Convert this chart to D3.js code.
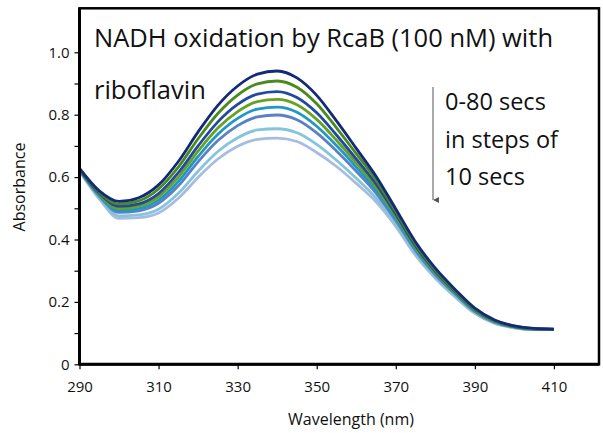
<!DOCTYPE html>
<html>
<head>
<meta charset="utf-8">
<script src="https://cdn.jsdelivr.net/npm/d3@7"></script>
<style>
  body { margin: 0; background: #fff; }
  text { font-family: "Open Sans", sans-serif; fill: #111; }
</style>
</head>
<body>
<div id="chart"></div>
<script>
// wavelengths (nm), one reading every 5 nm
const wavelengths = [290,295,300,305,310,315,320,325,330,335,340,345,350,355,360,365,370,375,380,385,390,395,400,405,410];

// absorbance spectra, 0 s first
const s0  = [0.628,0.556,0.522,0.534,0.575,0.650,0.745,0.830,0.892,0.930,0.940,0.918,0.862,0.780,0.692,0.603,0.498,0.392,0.308,0.240,0.180,0.142,0.123,0.115,0.113];
const s10 = [0.627,0.552,0.514,0.524,0.562,0.632,0.723,0.804,0.863,0.899,0.908,0.888,0.835,0.758,0.675,0.591,0.490,0.386,0.303,0.236,0.177,0.140,0.122,0.114,0.113];
const s20 = [0.625,0.548,0.506,0.514,0.547,0.614,0.700,0.777,0.833,0.866,0.874,0.855,0.806,0.735,0.658,0.578,0.481,0.379,0.298,0.233,0.175,0.139,0.121,0.114,0.112];
const s30 = [0.624,0.545,0.499,0.507,0.537,0.600,0.683,0.757,0.810,0.842,0.849,0.832,0.785,0.718,0.645,0.568,0.474,0.374,0.294,0.230,0.173,0.137,0.120,0.113,0.112];
const s40 = [0.623,0.542,0.493,0.499,0.526,0.586,0.666,0.737,0.788,0.818,0.824,0.808,0.763,0.701,0.632,0.559,0.468,0.369,0.291,0.227,0.171,0.136,0.120,0.113,0.112];
const s50 = [0.622,0.539,0.487,0.492,0.516,0.572,0.649,0.717,0.765,0.793,0.799,0.784,0.742,0.684,0.619,0.549,0.461,0.364,0.287,0.225,0.169,0.135,0.119,0.112,0.112];
const s60 = [0.621,0.534,0.476,0.479,0.497,0.548,0.619,0.682,0.726,0.751,0.755,0.742,0.705,0.654,0.596,0.533,0.450,0.355,0.280,0.220,0.165,0.133,0.117,0.111,0.111];
const s70 = [0.619,0.530,0.468,0.470,0.485,0.532,0.599,0.658,0.699,0.721,0.725,0.714,0.679,0.634,0.580,0.521,0.442,0.349,0.276,0.216,0.163,0.131,0.117,0.111,0.111];

const series = [s0, s10, s20, s30, s40, s50, s60, s70];
const colors = ['#132a78', '#4b8a1c', '#2348a2', '#68a222', '#1f98c6', '#5a80c6', '#86c4dc', '#a8bbe0'];

const xTicks = [290, 310, 330, 350, 370, 390, 410];
const yTicks = [0, 0.1, 0.2, 0.3, 0.4, 0.5, 0.6, 0.7, 0.8, 0.9, 1.0];
const yLabels = [0, 0.2, 0.4, 0.6, 0.8, 1.0];

const width = 603, height = 433;
const plot = {left: 79.5, right: 599, top: 8.3, bottom: 364.3};

const svg = d3.select('#chart').append('svg')
  .attr('width', width)
  .attr('height', height);

const x = d3.scaleLinear().domain([290, 421.4]).range([plot.left, plot.right]);
const y = d3.scaleLinear().domain([0, 1.141]).range([plot.bottom, plot.top]);

// frame
svg.append('rect')
  .attr('x', plot.left).attr('y', plot.top)
  .attr('width', plot.right - plot.left)
  .attr('height', plot.bottom - plot.top)
  .attr('fill', 'none')
  .attr('stroke', '#000')
  .attr('stroke-width', 2.5);

// spectra, lightest first so the 0 s curve sits on top
const line = d3.line()
  .x((d, i) => x(wavelengths[i]))
  .y(d => y(d))
  .curve(d3.curveMonotoneX);

svg.append('g').selectAll('path')
  .data(series.slice().reverse())
  .enter().append('path')
  .attr('d', d => line(d))
  .attr('fill', 'none')
  .attr('stroke', (d, i) => colors[series.length - 1 - i])
  .attr('stroke-width', 2.8)
  .attr('stroke-linejoin', 'round');

// axes
const xAxis = d3.axisBottom(x).tickValues(xTicks).tickSize(5).tickSizeOuter(0).tickPadding(12);
const yAxis = d3.axisLeft(y).tickValues(yTicks).tickSize(5).tickSizeOuter(0).tickPadding(5)
  .tickFormat(d => yLabels.some(v => Math.abs(v - d) < 1e-9) ? (d === 0 ? '0' : d3.format('.1f')(d)) : '');

svg.append('g')
  .attr('transform', 'translate(0,' + plot.bottom + ')')
  .call(xAxis)
  .call(g => g.select('.domain').attr('d', 'M' + plot.left + ',0H' + plot.right).attr('stroke-width', 3))
  .call(g => g.selectAll('.tick line').attr('stroke', '#000').attr('stroke-width', 1.2))
  .call(g => g.selectAll('text').style('font-size', '15px').style('font-family', '"Open Sans", sans-serif').attr('fill', '#111'));

svg.append('g')
  .attr('transform', 'translate(' + plot.left + ',0)')
  .call(yAxis)
  .call(g => g.select('.domain').attr('d', 'M0,' + plot.bottom + 'V' + plot.top).attr('stroke-width', 3))
  .call(g => g.selectAll('.tick line').attr('stroke', '#000').attr('stroke-width', 1.2))
  .call(g => g.selectAll('text').style('font-size', '15px').style('font-family', '"Open Sans", sans-serif').attr('fill', '#111'));

// axis titles
svg.append('text')
  .attr('x', 351).attr('y', 425)
  .attr('text-anchor', 'middle')
  .style('font-size', '16px')
  .text('Wavelength (nm)');

svg.append('text')
  .attr('transform', 'translate(25,187) rotate(-90)')
  .attr('text-anchor', 'middle')
  .style('font-size', '16px')
  .text('Absorbance');

// title inside the plot
svg.append('text')
  .attr('x', 94).attr('y', 47)
  .style('font-size', '25.5px')
  .text('NADH oxidation by RcaB (100 nM) with');

svg.append('text')
  .attr('x', 94).attr('y', 99)
  .style('font-size', '25.5px')
  .text('riboflavin');

// time annotation
const note = ['0-80 secs', 'in steps of', '10 secs'];
svg.append('g').selectAll('text')
  .data(note)
  .enter().append('text')
  .attr('x', 445)
  .attr('y', (d, i) => 110 + i * 37.5)
  .style('font-size', '23.5px')
  .text(d => d);

svg.append('defs').append('marker')
  .attr('id', 'head')
  .attr('viewBox', '0 0 6 6')
  .attr('refX', 3).attr('refY', 6)
  .attr('markerWidth', 6).attr('markerHeight', 6)
  .attr('orient', 'auto-start-reverse')
  .append('path')
  .attr('d', 'M0,0L3,6L6,0Z')
  .attr('fill', '#555');

svg.append('line')
  .attr('x1', 433).attr('x2', 433)
  .attr('y1', 87).attr('y2', 200)
  .attr('stroke', '#555')
  .attr('stroke-width', 1)
  .attr('marker-end', 'url(#head)');
</script>
</body>
</html>
